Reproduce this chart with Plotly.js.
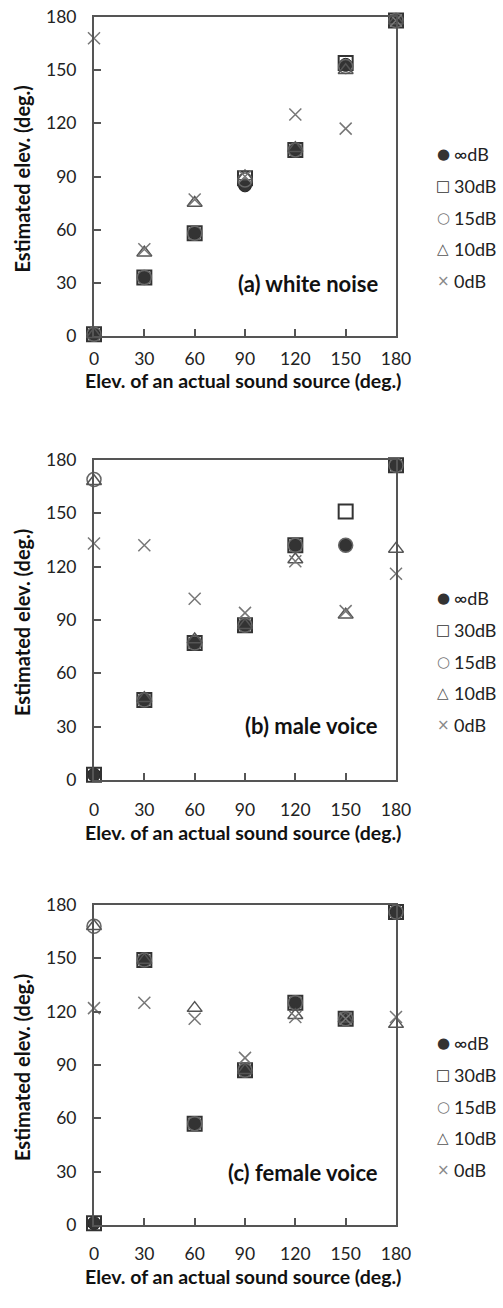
<!DOCTYPE html>
<html>
<head>
<meta charset="utf-8">
<script src="https://cdn.plot.ly/plotly-3.0.1.min.js"></script>
<style>html,body{margin:0;padding:0;background:#fff;}#chart{width:503px;height:1308px;}</style>
</head>
<body>
<div id="chart"></div>
<script>
// Actual source elevations (deg.)
const elevations = [0, 30, 60, 90, 120, 150, 180];
const tickValues = [0, 30, 60, 90, 120, 150, 180];
const seriesNames = ['\u221EdB', '30dB', '15dB', '10dB', '0dB'];
const legendGlyphs = ['\u25CF', '\u25A1', '\u25CB', '\u25B3', '\u00D7'];
const panelLabels = ['(a) white noise', '(b) male voice', '(c) female voice'];

// (a) white noise
const whiteInf = [1, 33, 58, 85, 105, 153, 178];
const white30 = [1, 33, 58, 89, 105, 154, 178];
const white15 = [1, 33, 58, 88, 105, 152, 178];
const white10 = [1, 47, 75, 90, 106, 150, 178];
const white0 = [168, 49, 77, 90, 125, 117, 178];

// (b) male voice
const maleInf = [3, 45, 77, 87, 132, 132, 177];
const male30 = [3, 45, 77, 87, 132, 151, 177];
const male15 = [169, 45, 77, 87, 132, 132, 177];
const male10 = [168, 46, 79, 87, 124, 93, 130];
const male0 = [133, 132, 102, 94, 123, 95, 116];

// (c) female voice
const femaleInf = [1, 149, 57, 87, 125, 116, 176];
const female30 = [1, 149, 57, 87, 125, 116, 176];
const female15 = [168, 149, 57, 87, 125, 116, 176];
const female10 = [168, 149, 122, 87, 118, 116, 113];
const female0 = [122, 125, 116, 94, 117, 116, 117];

const panels = [
  [whiteInf, white30, white15, white10, white0],
  [maleInf, male30, male15, male10, male0],
  [femaleInf, female30, female15, female10, female0]
];

const markerStyles = [
  {symbol: 'circle', size: 13, color: '#333333', line: {color: '#222222', width: 1}},
  {symbol: 'square-open', size: 14, color: '#333333', line: {width: 2}},
  {symbol: 'circle-open', size: 14, color: '#666666', line: {width: 1.5}},
  {symbol: 'triangle-up-open', size: 13, color: '#555555', line: {width: 1.5}},
  {symbol: 'x-thin-open', size: 12, color: '#777777', line: {width: 1.5}}
];
const glyphColors = ['#333333', '#333333', '#777777', '#555555', '#888888'];

const W = 503, H = 1308;
const plotLeft = 94, plotRight = 396;
const plotTops = [17, 460, 905];
const plotBottoms = [336, 780, 1225];
const xLabelStandoff = [6, 13, 12];
const labelY = [283, 725, 1172];
const xTitleY = [381, 832, 1276];
const legendRowGap = 31.7;
const legendLastRowAboveBottom = 55;

const FONT = 'Lato, "Open Sans", sans-serif';
const traces = [];
const layout = {
  width: W, height: H, autosize: false,
  margin: {l: 0, r: 0, t: 0, b: 0},
  paper_bgcolor: '#ffffff', plot_bgcolor: '#ffffff',
  font: {family: FONT, color: '#222222', size: 15},
  showlegend: false,
  annotations: []
};

panels.forEach((series, p) => {
  const xa = p === 0 ? 'x' : 'x' + (p + 1);
  const ya = p === 0 ? 'y' : 'y' + (p + 1);
  series.forEach((vals, s) => {
    traces.push({
      type: 'scatter', mode: 'markers',
      x: elevations, y: vals,
      xaxis: xa, yaxis: ya,
      name: seriesNames[s],
      marker: markerStyles[s],
      cliponaxis: false,
      hoverinfo: 'x+y+name'
    });
  });
  const axBase = {
    range: [0, 180], tickvals: tickValues, ticktext: tickValues.map(String),
    ticks: 'inside', ticklen: 7, tickwidth: 2, tickcolor: '#555555',
    showline: true, mirror: true, linecolor: '#555555', linewidth: 2,
    showgrid: false, zeroline: false, fixedrange: true,
    tickfont: {family: FONT, size: 17.5, color: '#222222'}
  };
  layout[p === 0 ? 'xaxis' : 'xaxis' + (p + 1)] = Object.assign({}, axBase, {
    domain: [plotLeft / W, plotRight / W], anchor: ya, ticklabelstandoff: xLabelStandoff[p]
  });
  layout[p === 0 ? 'yaxis' : 'yaxis' + (p + 1)] = Object.assign({}, axBase, {
    domain: [1 - plotBottoms[p] / H, 1 - plotTops[p] / H], anchor: xa, ticklabelstandoff: 12
  });
  // legend rows (drawn as text symbols, like the reference)
  seriesNames.forEach((nm, s) => {
    const rowY = plotBottoms[p] - legendLastRowAboveBottom - (seriesNames.length - 1 - s) * legendRowGap;
    layout.annotations.push({
      xref: 'paper', yref: 'paper', x: 443 / W, y: 1 - rowY / H,
      xanchor: 'center', yanchor: 'middle', showarrow: false,
      text: legendGlyphs[s],
      font: {family: 'DejaVu Sans', size: 15, color: glyphColors[s]}
    });
    layout.annotations.push({
      xref: 'paper', yref: 'paper', x: 452 / W, y: 1 - rowY / H,
      xanchor: 'left', yanchor: 'middle', showarrow: false,
      text: nm,
      font: {family: FONT, size: 18, color: '#222222'}
    });
  });
  layout.annotations.push({
    xref: 'paper', yref: 'paper', x: 380 / W, y: 1 - labelY[p] / H,
    xanchor: 'right', yanchor: 'middle', showarrow: false,
    text: '<b>' + panelLabels[p] + '</b>',
    font: {family: FONT, size: 22, color: '#111111'}
  });
  layout.annotations.push({
    xref: 'paper', yref: 'paper', x: 243 / W, y: 1 - xTitleY[p] / H,
    xanchor: 'center', yanchor: 'middle', showarrow: false,
    text: '<b>Elev. of an actual sound source (deg.)</b>',
    font: {family: FONT, size: 19.5, color: '#111111'}
  });
  layout.annotations.push({
    xref: 'paper', yref: 'paper', x: 22 / W, y: 1 - ((plotTops[p] + plotBottoms[p]) / 2 + 3) / H,
    xanchor: 'center', yanchor: 'middle', showarrow: false, textangle: -90,
    text: '<b>Estimated elev. (deg.)</b>',
    font: {family: FONT, size: 20, color: '#111111'}
  });
});

Plotly.newPlot('chart', traces, layout, {displayModeBar: false, staticPlot: true});
</script>
</body>
</html>
